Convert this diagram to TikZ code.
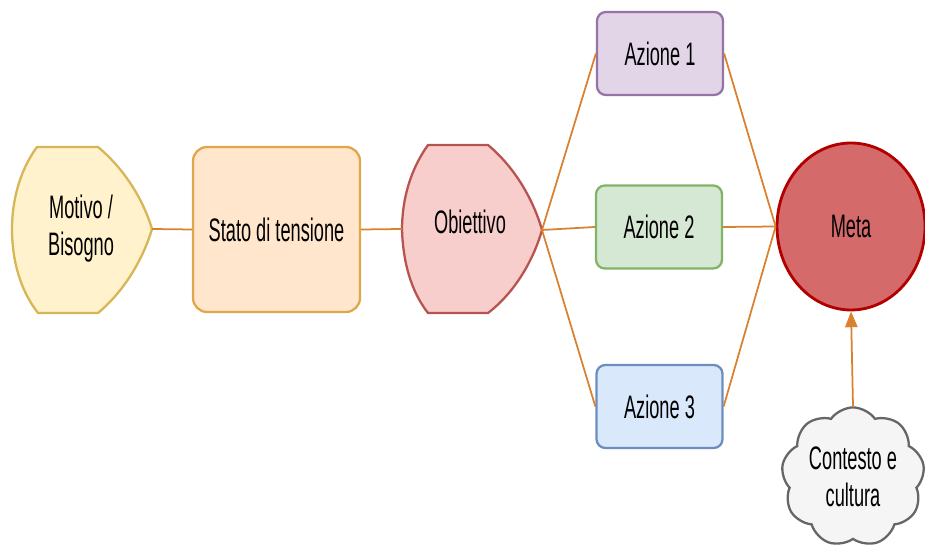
\documentclass[tikz,border=0pt]{standalone}
\usepackage{fontspec}
\setmainfont{Liberation Sans}[FakeStretch=0.56]
\usetikzlibrary{shapes.geometric,shapes.symbols,arrows.meta}
\definecolor{linea}{HTML}{DA8130}
\definecolor{gialloF}{HTML}{FFF2CC}\definecolor{gialloD}{HTML}{D6B656}
\definecolor{aranF}{HTML}{FFE6CC}\definecolor{aranD}{HTML}{E0A64A}
\definecolor{rosaF}{HTML}{F8CECC}\definecolor{rosaD}{HTML}{B85450}
\definecolor{violaF}{HTML}{E1D5E7}\definecolor{violaD}{HTML}{9673A6}
\definecolor{verdeF}{HTML}{D5E8D4}\definecolor{verdeD}{HTML}{82B366}
\definecolor{bluF}{HTML}{DAE8FC}\definecolor{bluD}{HTML}{6C8EBF}
\definecolor{metaF}{HTML}{D46A6A}\definecolor{metaD}{HTML}{B20000}
\definecolor{grigioF}{HTML}{F5F5F5}\definecolor{grigioD}{HTML}{666666}
\begin{document}
\begin{tikzpicture}[x=0.02cm,y=-0.02cm,line width=1.3pt,
		lbl/.style={font=\fontsize{18.5}{21}\selectfont,align=center,text=black},
		azione/.style={lbl,draw,rounded corners=5pt,minimum width=2.52cm,minimum height=1.66cm},
		link/.style={draw=linea,line width=1pt}]
		\useasboundingbox (0,0) rectangle (925,546);
		% motivo / bisogno
		\filldraw[fill=gialloF,draw=gialloD]
		(37,147) -- (98,147) .. controls (128,172) and (145,205) .. (152,229)
		.. controls (145,253) and (128,288) .. (98,313) -- (38,313)
		.. controls (20,290) and (12,260) .. (12,229)
		.. controls (12,200) and (20,170) .. (37,147) -- cycle;
		\node[lbl] (motivo) at (81,229) {Motivo /\\Bisogno};
		\coordinate (motivo-r) at (152,229);
		% stato di tensione
		\node[lbl,draw=aranD,fill=aranF,rounded corners=8pt,
		minimum width=3.34cm,minimum height=3.3cm] (stato) at (276.5,229.5) {Stato di tensione};
		% obiettivo
		\filldraw[fill=rosaF,draw=rosaD]
		(428,145) -- (488,145) .. controls (518,170) and (535,205) .. (542,230)
		.. controls (535,255) and (518,290) .. (488,313) -- (428,313)
		.. controls (410,290) and (403,260) .. (402,230)
		.. controls (402,200) and (410,170) .. (428,145) -- cycle;
		\node[lbl] (obiettivo) at (470,222) {Obiettivo};
		\coordinate (obiettivo-l) at (402,229);
		\coordinate (obiettivo-r) at (542,230);
		% azioni
		\node[azione,fill=violaF,draw=violaD] (az1) at (660,53.5) {Azione 1};
		\node[azione,fill=verdeF,draw=verdeD] (az2) at (659,227) {Azione 2};
		\node[azione,fill=bluF,draw=bluD] (az3) at (659.5,406.5) {Azione 3};
		% meta
		\node[lbl,ellipse,draw=metaD,fill=metaF,line width=1.6pt,
		minimum width=2.96cm,minimum height=3.34cm] (meta) at (851,226.5) {Meta};
		% contesto
		\node[lbl,cloud,cloud puffs=9,cloud puff arc=110,aspect=1,draw=grigioD,fill=grigioF,
		minimum width=2.86cm,minimum height=2.78cm,inner sep=0pt] (contesto) at (853,477) {Contesto e\\cultura};
		% connettori
		\draw[link] (motivo-r) -- (stato.west);
		\draw[link] (stato.east) -- (obiettivo-l);
		\draw[link] (obiettivo-r) -- (az1.west);
		\draw[link] (obiettivo-r) -- (az2.west);
		\draw[link] (obiettivo-r) -- (az3.west);
		\draw[link] (az1.east) -- (meta.west);
		\draw[link] (az2.east) -- (meta.west);
		\draw[link] (az3.east) -- (meta.west);
		\draw[link,-{Triangle[length=9pt,width=7pt]}] (contesto.north) -- (meta.south);
\end{tikzpicture}
\end{document}
